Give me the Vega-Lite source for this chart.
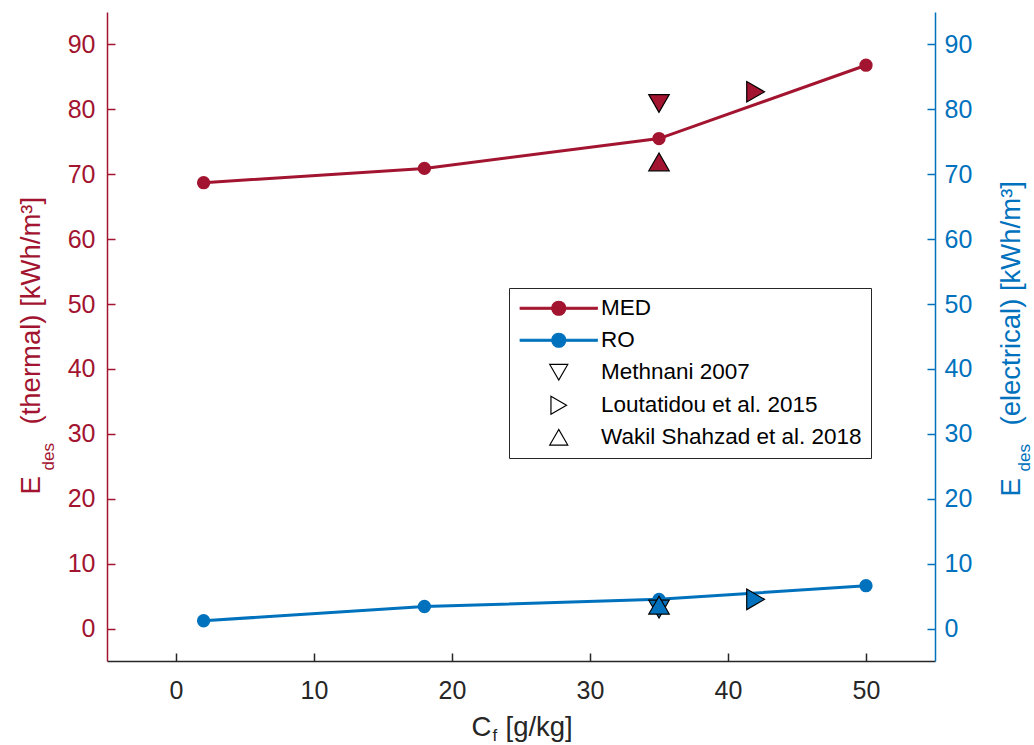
{
  "$schema": "https://vega.github.io/schema/vega-lite/v6.json",
  "width": 828,
  "height": 649,
  "autosize": {"type": "none"},
  "padding": {"left": 107, "top": 12, "right": 99, "bottom": 84},
  "background": "#ffffff",
  "config": {
    "view": {"stroke": null},
    "font": "Liberation Sans",
    "axis": {"labelFont": "Liberation Sans", "titleFont": "Liberation Sans", "titleFontWeight": "normal", "grid": false},
    "legend": {"labelFont": "Liberation Sans"}
  },
  "datasets": {
    "series": [
      {"process": "MED", "cf": 2, "e": 68.7},
      {"process": "MED", "cf": 18, "e": 70.9},
      {"process": "MED", "cf": 35, "e": 75.5},
      {"process": "MED", "cf": 50, "e": 86.8},
      {"process": "RO", "cf": 2, "e": 1.2},
      {"process": "RO", "cf": 18, "e": 3.4},
      {"process": "RO", "cf": 35, "e": 4.5},
      {"process": "RO", "cf": 50, "e": 6.6}
    ],
    "refs": [
      {"process": "MED", "entry": "Methnani 2007", "cf": 35, "e": 80.9},
      {"process": "MED", "entry": "Loutatidou et al. 2015", "cf": 42, "e": 82.7},
      {"process": "MED", "entry": "Wakil Shahzad et al. 2018", "cf": 35, "e": 71.9},
      {"process": "RO", "entry": "Methnani 2007", "cf": 35, "e": 3.0},
      {"process": "RO", "entry": "Loutatidou et al. 2015", "cf": 42, "e": 4.5},
      {"process": "RO", "entry": "Wakil Shahzad et al. 2018", "cf": 35, "e": 3.6}
    ],
    "legend": [
      {"entry": "MED"},
      {"entry": "RO"},
      {"entry": "Methnani 2007"},
      {"entry": "Loutatidou et al. 2015"},
      {"entry": "Wakil Shahzad et al. 2018"}
    ]
  },
  "encoding": {
    "x": {
      "field": "cf", "type": "quantitative",
      "scale": {"domain": [-5, 55], "nice": false, "zero": false},
      "axis": {
        "orient": "bottom", "values": [0, 10, 20, 30, 40, 50],
        "domainColor": "#262626", "domainWidth": 1.5,
        "tickColor": "#262626", "tickWidth": 1.5, "tickSize": -8,
        "labelColor": "#262626", "labelFontSize": 25, "labelPadding": 25,
        "title": "C", "titleColor": "#262626", "titleFontSize": 27.5,
        "titleAngle": 0, "titleAlign": "left", "titleBaseline": "alphabetic",
        "titleX": 364, "titleY": 74
      }
    }
  },
  "layer": [
    {
      "encoding": {
        "y": {
          "field": "e", "type": "quantitative",
          "scale": {"domain": [-5, 95], "nice": false, "zero": false},
          "axis": {
            "orient": "left", "values": [0, 10, 20, 30, 40, 50, 60, 70, 80, 90],
            "domainColor": "#A2142F", "domainWidth": 1.5,
            "tickColor": "#A2142F", "tickWidth": 1.5, "tickSize": -8,
            "labelColor": "#A2142F", "labelFontSize": 25, "labelPadding": 20,
            "title": "E", "titleColor": "#A2142F", "titleFontSize": 27.5,
            "titleAngle": -90, "titleAlign": "left", "titleBaseline": "alphabetic",
            "titleX": -68, "titleY": 482
          }
        }
      },
      "layer": [
        {
          "data": {"name": "series"},
          "transform": [{"filter": "datum.process === 'MED'"}],
          "mark": {"type": "line", "color": "#A2142F", "strokeWidth": 3,
                   "point": {"filled": true, "size": 177, "color": "#A2142F", "opacity": 1}}
        },
        {
          "data": {"name": "refs"},
          "transform": [{"filter": "datum.process === 'MED' && datum.entry === 'Methnani 2007'"}],
          "mark": {"type": "point", "shape": "triangle-down", "filled": true, "fill": "#A2142F", "stroke": "#000000", "strokeWidth": 1.2, "size": 420, "opacity": 1}
        },
        {
          "data": {"name": "refs"},
          "transform": [{"filter": "datum.process === 'MED' && datum.entry === 'Loutatidou et al. 2015'"}],
          "mark": {"type": "point", "shape": "triangle-right", "filled": true, "fill": "#A2142F", "stroke": "#000000", "strokeWidth": 1.2, "size": 420, "opacity": 1}
        },
        {
          "data": {"name": "refs"},
          "transform": [{"filter": "datum.process === 'MED' && datum.entry === 'Wakil Shahzad et al. 2018'"}],
          "mark": {"type": "point", "shape": "triangle-up", "filled": true, "fill": "#A2142F", "stroke": "#000000", "strokeWidth": 1.2, "size": 420, "opacity": 1}
        },
        {
          "data": {"name": "legend"},
          "transform": [{"filter": "false"}],
          "mark": {"type": "point", "opacity": 1, "strokeWidth": 1.2},
          "encoding": {
            "shape": {
              "field": "entry", "type": "nominal",
              "scale": {
                "domain": ["MED", "RO", "Methnani 2007", "Loutatidou et al. 2015", "Wakil Shahzad et al. 2018"],
                "range": ["M-4.28,-0.11H4.28V0.11H-4.28Z M0.78,0A0.78,0.78,0,1,1,-0.78,0A0.78,0.78,0,1,1,0.78,0Z", "M-4.28,-0.11H4.28V0.11H-4.28Z M0.78,0A0.78,0.78,0,1,1,-0.78,0A0.78,0.78,0,1,1,0.78,0Z", "triangle-down", "triangle-right", "triangle-up"]
              },
              "legend": {
                "title": null, "orient": "none", "legendX": 402, "legendY": 276,
                "symbolSize": 324, "symbolOffset": 29.5, "symbolStrokeWidth": 1.2,
                "labelOffset": 31, "labelFontSize": 22.5, "labelColor": "#000000", "labelLimit": 500,
                "rowPadding": 9, "padding": 9,
                "strokeColor": "#262626", "fillColor": "#ffffff"
              }
            },
            "fill": {
              "field": "entry", "type": "nominal",
              "scale": {
                "domain": ["MED", "RO", "Methnani 2007", "Loutatidou et al. 2015", "Wakil Shahzad et al. 2018"],
                "range": ["#A2142F", "#0072BD", "transparent", "transparent", "transparent"]
              },
              "legend": {"title": null}
            },
            "stroke": {
              "field": "entry", "type": "nominal",
              "scale": {
                "domain": ["MED", "RO", "Methnani 2007", "Loutatidou et al. 2015", "Wakil Shahzad et al. 2018"],
                "range": ["#A2142F", "#0072BD", "#000000", "#000000", "#000000"]
              },
              "legend": {"title": null}
            }
          }
        }
      ]
    },
    {
      "encoding": {
        "y": {
          "field": "e", "type": "quantitative",
          "scale": {"domain": [-5, 95], "nice": false, "zero": false},
          "axis": {
            "orient": "right", "values": [0, 10, 20, 30, 40, 50, 60, 70, 80, 90],
            "domainColor": "#0072BD", "domainWidth": 1.5,
            "tickColor": "#0072BD", "tickWidth": 1.5, "tickSize": -8,
            "labelColor": "#0072BD", "labelFontSize": 25, "labelPadding": 17,
            "title": "E", "titleColor": "#0072BD", "titleFontSize": 27.5,
            "titleAngle": -90, "titleAlign": "left", "titleBaseline": "alphabetic",
            "titleX": 84, "titleY": 484
          }
        }
      },
      "layer": [
        {
          "data": {"name": "series"},
          "transform": [{"filter": "datum.process === 'RO'"}],
          "mark": {"type": "line", "color": "#0072BD", "strokeWidth": 3,
                   "point": {"filled": true, "size": 177, "color": "#0072BD", "opacity": 1}}
        },
        {
          "data": {"name": "refs"},
          "transform": [{"filter": "datum.process === 'RO' && datum.entry === 'Methnani 2007'"}],
          "mark": {"type": "point", "shape": "triangle-down", "filled": true, "fill": "#0072BD", "stroke": "#000000", "strokeWidth": 1.2, "size": 420, "opacity": 1}
        },
        {
          "data": {"name": "refs"},
          "transform": [{"filter": "datum.process === 'RO' && datum.entry === 'Loutatidou et al. 2015'"}],
          "mark": {"type": "point", "shape": "triangle-right", "filled": true, "fill": "#0072BD", "stroke": "#000000", "strokeWidth": 1.2, "size": 420, "opacity": 1}
        },
        {
          "data": {"name": "refs"},
          "transform": [{"filter": "datum.process === 'RO' && datum.entry === 'Wakil Shahzad et al. 2018'"}],
          "mark": {"type": "point", "shape": "triangle-up", "filled": true, "fill": "#0072BD", "stroke": "#000000", "strokeWidth": 1.2, "size": 420, "opacity": 1}
        }
      ]
    },
    {
      "data": {"name": "legend"}, "transform": [{"filter": "false"}], "mark": "point",
      "encoding": {"y": {"field": "e", "type": "quantitative", "scale": {"domain": [-5, 95], "nice": false, "zero": false},
        "axis": {"orient": "left", "labels": false, "ticks": false, "domain": false, "title": "des", "titleColor": "#A2142F", "titleFontSize": 17,
                 "titleAngle": -90, "titleAlign": "left", "titleBaseline": "alphabetic", "titleX": -54, "titleY": 458}}}
    },
    {
      "data": {"name": "legend"}, "transform": [{"filter": "false"}], "mark": "point",
      "encoding": {"y": {"field": "e", "type": "quantitative", "scale": {"domain": [-5, 95], "nice": false, "zero": false},
        "axis": {"orient": "left", "labels": false, "ticks": false, "domain": false, "title": "(thermal) [kWh/m³]", "titleColor": "#A2142F", "titleFontSize": 27.5,
                 "titleAngle": -90, "titleAlign": "left", "titleBaseline": "alphabetic", "titleX": -68, "titleY": 412}}}
    },
    {
      "data": {"name": "legend"}, "transform": [{"filter": "false"}], "mark": "point",
      "encoding": {"y": {"field": "e", "type": "quantitative", "scale": {"domain": [-5, 95], "nice": false, "zero": false},
        "axis": {"orient": "left", "labels": false, "ticks": false, "domain": false, "title": "des", "titleColor": "#0072BD", "titleFontSize": 17,
                 "titleAngle": -90, "titleAlign": "left", "titleBaseline": "alphabetic", "titleX": 922, "titleY": 459}}}
    },
    {
      "data": {"name": "legend"}, "transform": [{"filter": "false"}], "mark": "point",
      "encoding": {"y": {"field": "e", "type": "quantitative", "scale": {"domain": [-5, 95], "nice": false, "zero": false},
        "axis": {"orient": "left", "labels": false, "ticks": false, "domain": false, "title": "(electrical) [kWh/m³]", "titleColor": "#0072BD", "titleFontSize": 27.5,
                 "titleAngle": -90, "titleAlign": "left", "titleBaseline": "alphabetic", "titleX": 912, "titleY": 413}}}
    },
    {
      "data": {"name": "legend"}, "transform": [{"filter": "false"}], "mark": "point",
      "encoding": {"y": {"field": "e", "type": "quantitative", "scale": {"domain": [-5, 95], "nice": false, "zero": false},
        "axis": {"orient": "left", "labels": false, "ticks": false, "domain": false, "title": "f", "titleColor": "#262626", "titleFontSize": 17,
                 "titleAngle": 0, "titleAlign": "left", "titleBaseline": "alphabetic", "titleX": 385, "titleY": 728}}}
    },
    {
      "data": {"name": "legend"}, "transform": [{"filter": "false"}], "mark": "point",
      "encoding": {"y": {"field": "e", "type": "quantitative", "scale": {"domain": [-5, 95], "nice": false, "zero": false},
        "axis": {"orient": "left", "labels": false, "ticks": false, "domain": false, "title": "[g/kg]", "titleColor": "#262626", "titleFontSize": 27.5,
                 "titleAngle": 0, "titleAlign": "left", "titleBaseline": "alphabetic", "titleX": 398, "titleY": 723}}}
    }
  ],
  "resolve": {"axis": {"y": "independent"}}
}
